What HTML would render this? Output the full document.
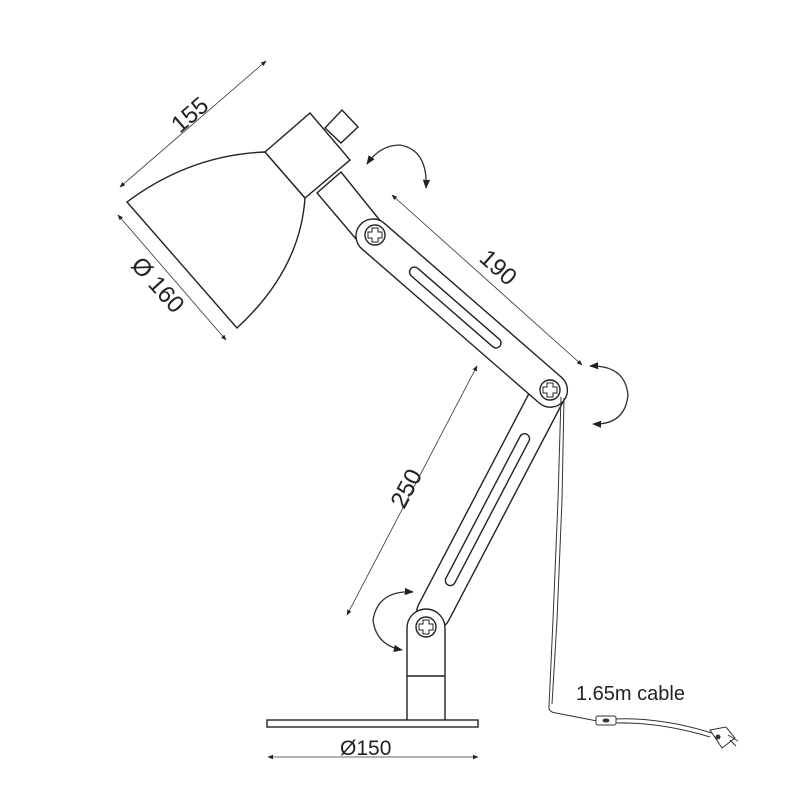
<!DOCTYPE html>
<html><head><style>body{margin:0;background:#fff}svg{display:block}</style></head><body>
<svg width="800" height="800" viewBox="0 0 800 800" xmlns="http://www.w3.org/2000/svg" font-family="Liberation Sans, sans-serif">
<defs>
<marker id="a" viewBox="0 0 10 10" refX="9" refY="5" markerWidth="7" markerHeight="7" orient="auto-start-reverse"><path d="M0,1 L10,5 L0,9 z" fill="#222"/></marker>
</defs>
<g fill="#fff" stroke="#222" stroke-width="1.4">
<g transform="translate(550,390) rotate(117.6)">
<rect x="-17" y="-17" width="285" height="34" rx="17"/>
<rect x="50" y="-5" width="170" height="10" rx="5"/>
</g>
<path d="M407,720 L407,628 A19,19 0 0 1 445,628 L445,720"/>
<line x1="407" y1="676" x2="445" y2="676"/>
<rect x="267" y="720" width="211" height="7"/>
<circle cx="426" cy="627" r="10"/>
<path d="M423,620h6v4h4v6h-4v4h-6v-4h-4v-6h4z" stroke-width="1"/>
<path d="M341,172 L382,223 L362,246 L317,193 Z"/>
<g transform="translate(373,236) rotate(41)">
<rect x="-17" y="-17" width="269" height="34" rx="17"/>
<rect x="50" y="-5" width="118" height="10" rx="5"/>
</g>
<circle cx="375" cy="235" r="10"/>
<path d="M372,228h6v4h4v6h-4v4h-6v-4h-4v-6h4z" stroke-width="1"/>
<circle cx="550" cy="390" r="10"/>
<path d="M547,383h6v4h4v6h-4v4h-6v-4h-4v-6h4z" stroke-width="1"/>
<path d="M127,202 Q190,155 265,152 L305,198 Q300,270 237,328 Z"/>
<path d="M325,128 L342,110 L358,127 L341,143 Z"/>
<path d="M265,152 L310,113 L350,160 L305,198 Z"/>
</g>
<g stroke="#333" stroke-width="0.8" fill="none">
<line x1="120" y1="187" x2="266" y2="61" marker-start="url(#a)" marker-end="url(#a)"/>
<line x1="118" y1="215" x2="226" y2="340" marker-start="url(#a)" marker-end="url(#a)"/>
<line x1="392" y1="195" x2="582" y2="365" marker-start="url(#a)" marker-end="url(#a)"/>
<line x1="347" y1="615" x2="477" y2="366" marker-start="url(#a)" marker-end="url(#a)"/>
<line x1="268" y1="757" x2="478" y2="757" marker-start="url(#a)" marker-end="url(#a)"/>
</g>
<g stroke="#333" stroke-width="1.3" fill="none">
<path d="M367,164 Q380,145 400,145 Q428,150 426,188" marker-start="url(#a)" marker-end="url(#a)"/>
<path d="M590,366 Q625,365 628,395 Q625,425 593,424" marker-start="url(#a)" marker-end="url(#a)"/>
<path d="M413,592 Q378,590 373,620 Q376,645 402,650" marker-start="url(#a)" marker-end="url(#a)"/>
</g>
<g stroke="#333" stroke-width="1" fill="none">
<path d="M561,397 L558,500 L553,620 L549,706 Q548,712 556,713 L597,721"/>
<path d="M564,398 L562,500 L557,620 L552,704"/>
<path d="M615,719 Q660,717 712,733"/>
<path d="M616,723 Q660,722 710,737"/>
<rect x="596" y="716" width="20" height="9" rx="2" fill="#fff"/>
<ellipse cx="606" cy="720.5" rx="3" ry="1.5" fill="#333"/>
<path d="M710,730 L726,727 L735,738 L722,748 Z" fill="#fff"/>
<circle cx="718" cy="737" r="2" fill="#333"/>
<path d="M728,735 L738,741 M730,740 L736,746"/>
</g>
<g fill="#222" font-size="24">
<text transform="translate(180,134) rotate(-41)">155</text>
<text transform="translate(130,266) rotate(48)">Ø 160</text>
<text transform="translate(478,260) rotate(42)">190</text>
<text transform="translate(404,510) rotate(-62)">250</text>
<text x="340" y="755" font-size="21">Ø150</text>
<text x="576" y="700" font-size="20">1.65m cable</text>
</g>
</svg>
</body></html>
